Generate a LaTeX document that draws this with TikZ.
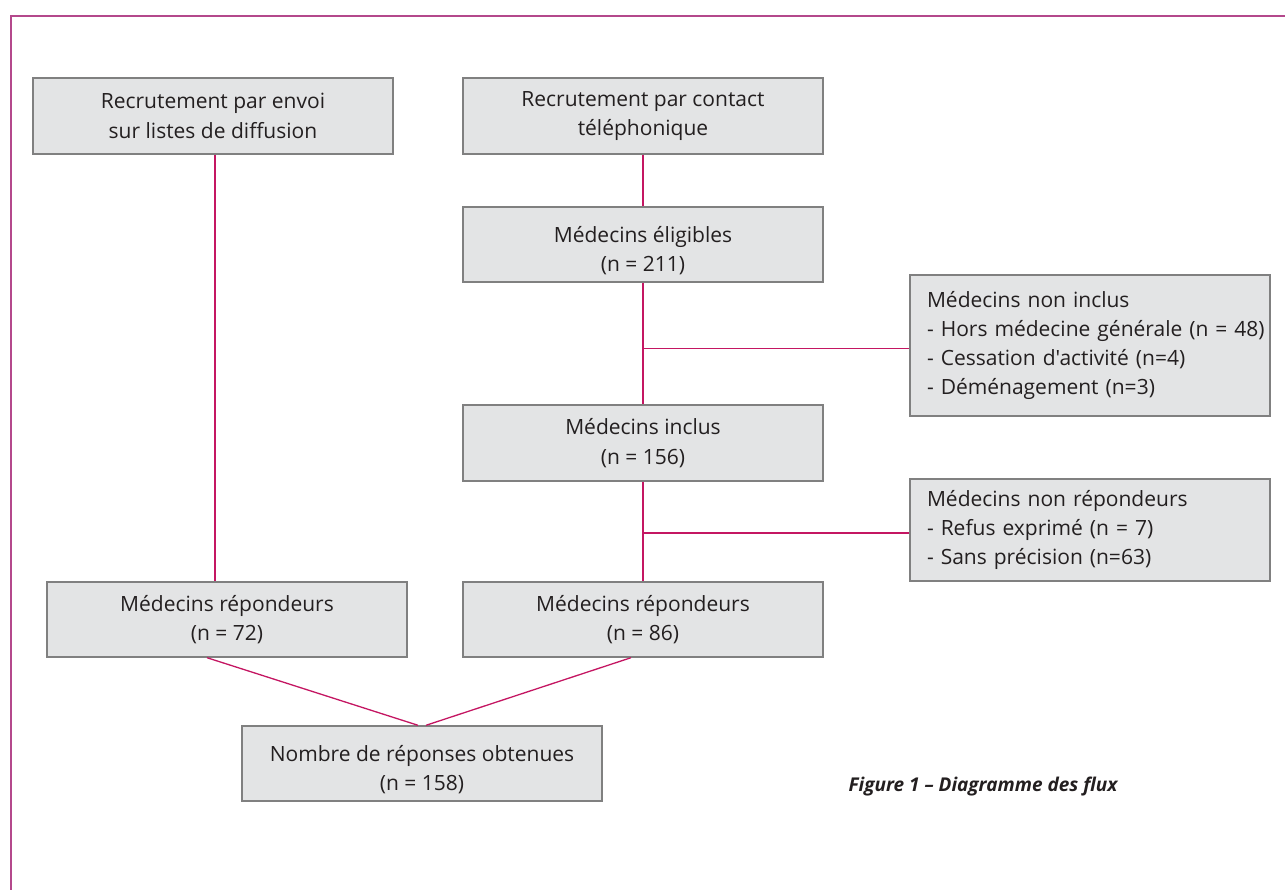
\documentclass[tikz,border=0pt]{standalone}
\usepackage{fontspec}
\setmainfont{Open Sans}[Ligatures=TeXOff]
\definecolor{framecol}{RGB}{180,72,140}
\definecolor{linkcol}{RGB}{196,22,98}
\definecolor{boxfill}{RGB}{227,228,229}
\definecolor{boxdraw}{RGB}{128,128,128}
\definecolor{txt}{RGB}{35,31,32}
\newcommand{\lowstrut}{\rule{0pt}{28pt}}
\begin{document}
\begin{tikzpicture}[x=1pt,y=-1pt,
  flowbox/.style={draw=boxdraw, fill=boxfill, line width=1.4pt, minimum width=360pt,
    inner sep=0pt, text=txt, font=\fontsize{21}{29.3}\selectfont},
  cbox/.style={flowbox, align=center},
  lbox/.style={flowbox, align=left, text width=354pt, execute at begin node={\leftskip=14pt}},
  link/.style={draw=linkcol, line width=1.3pt},
  caption/.style={text=txt, font=\fontsize{19}{24}\selectfont\bfseries\itshape, inner sep=0pt}]
\useasboundingbox (0,0) rectangle (1285,890);
\draw[framecol, line width=2pt] (11,890) -- (11,16) -- (1285,16);

\node[cbox, minimum height=76pt] (A) at (213,116) {Recrutement par envoi\\sur listes de diffusion};
\node[cbox, minimum height=76pt] (B) at (643,116) {Recrutement par contact\\téléphonique};
\node[cbox, minimum height=75pt] (C) at (643,244.5) {\lowstrut Médecins éligibles\\(n = 211)};
\node[lbox, minimum height=141pt] (D) at (1090,345.5) {Médecins non inclus\\- Hors médecine générale (n = 48)\\- Cessation d'activité (n=4)\\- Déménagement (n=3)};
\node[cbox, minimum height=76pt] (E) at (643,443) {Médecins inclus\\(n = 156)};
\node[lbox, minimum height=102pt] (F) at (1090,530) {Médecins non répondeurs\\- Refus exprimé (n = 7)\\- Sans précision (n=63)};
\node[cbox, minimum height=75pt] (G) at (227,619.5) {Médecins répondeurs\\(n = 72)};
\node[cbox, minimum height=75pt] (H) at (643,619.5) {Médecins répondeurs\\(n = 86)};
\node[cbox, minimum height=75pt] (I) at (422,763.5) {\lowstrut Nombre de réponses obtenues\\(n = 158)};
\node[caption] (cap) at (983,787) {Figure 1 – Diagramme des flux};

\draw[link] ([xshift=2pt]A.south) -- ([xshift=2pt]A.south |- G.north);
\draw[link] (B.south) -- (C.north);
\draw[link] (C.south) -- (E.north);
\draw[link] (E.south) -- (H.north);
\draw[link] ([yshift=-3pt]D.west) -- ([yshift=-3pt]D.west -| C.south);
\draw[link] ([yshift=-3pt]F.west) -- ([yshift=-3pt]F.west -| E.south);
\draw[link] ([xshift=-20pt]G.south) -- ([xshift=-4pt]I.north);
\draw[link] ([xshift=-12pt]H.south) -- ([xshift=4pt]I.north);
\end{tikzpicture}
\end{document}
